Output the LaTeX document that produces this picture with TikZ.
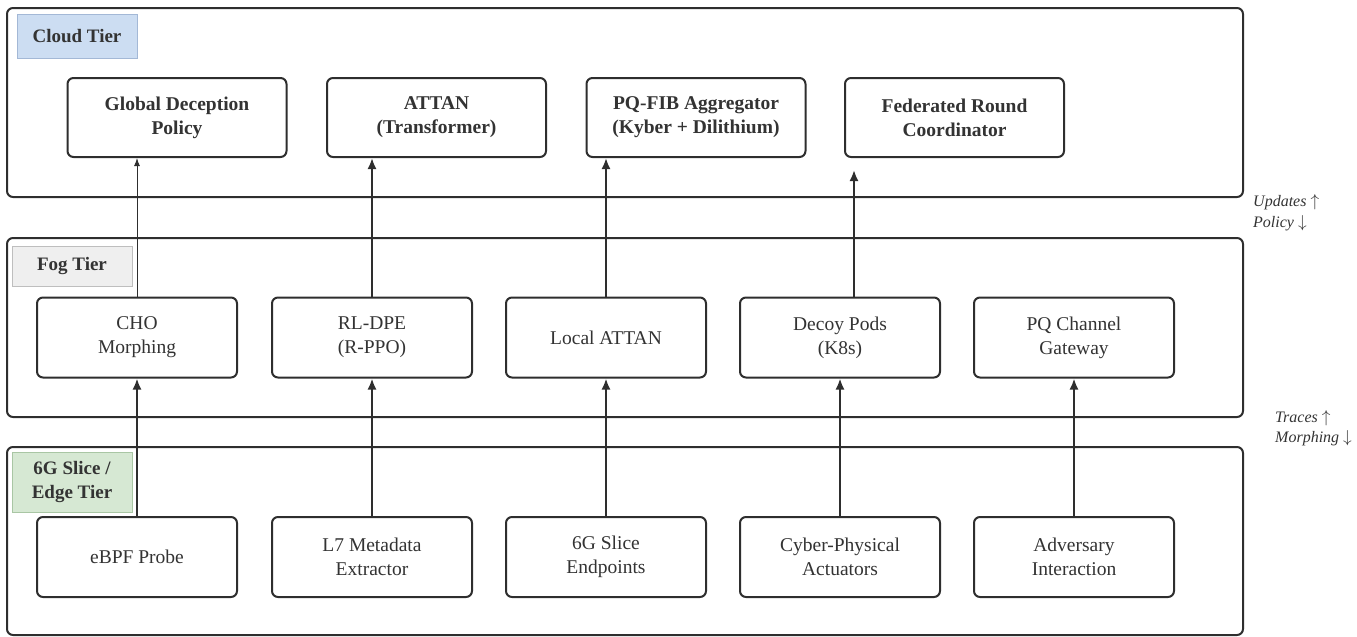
\documentclass[tikz,border=0pt]{standalone}
\usepackage{fontspec}
\setmainfont{Liberation Serif}
\usetikzlibrary{arrows.meta,calc}
\definecolor{linec}{HTML}{2E2E2E}
\definecolor{txtc}{HTML}{333333}
\definecolor{cloudfill}{HTML}{CCDDF2}
\definecolor{cloudbord}{HTML}{A3B8D6}
\definecolor{fogfill}{HTML}{EFEFEF}
\definecolor{fogbord}{HTML}{BEBEBE}
\definecolor{edgefill}{HTML}{D6E8D3}
\definecolor{edgebord}{HTML}{A9C6A4}
\begin{document}
\begin{tikzpicture}[x=1pt,y=-1pt,
  tierbox/.style={draw=linec,line width=2pt,rounded corners=6pt},
  compbox/.style={draw=linec,line width=2pt,rounded corners=6pt,fill=white,
    text=txtc,align=center,inner sep=0pt,
    font=\fontsize{19.5}{24}\selectfont},
  cloudcomp/.style={compbox,minimum width=219pt,minimum height=79pt,
    font=\fontsize{19.5}{24}\selectfont\bfseries},
  fogcomp/.style={compbox,minimum width=200pt,minimum height=80pt},
  tierlbl/.style={draw,line width=1pt,minimum width=120pt,inner sep=0pt,
    text=txtc,align=center,font=\fontsize{19}{24}\selectfont\bfseries},
  sidelbl/.style={anchor=west,inner sep=0pt,text=txtc,
    font=\fontsize{16}{18}\selectfont\itshape},
  uparrow/.style={draw=linec,line width=2pt,-{Latex[length=11pt,width=9pt]}},
  thinarrow/.style={draw=linec,line width=1pt,-{Latex[length=8pt,width=6pt]}}
]
\useasboundingbox (0,0) rectangle (1357,637);

% tiers
\draw[tierbox] (7,8) rectangle (1243,197);
\draw[tierbox] (7,238) rectangle (1243,417);
\draw[tierbox] (7,447) rectangle (1243,635);

% tier labels
\node[tierlbl,fill=cloudfill,draw=cloudbord,minimum height=44pt] (cloudlbl) at (77,36) {Cloud Tier};
\node[tierlbl,fill=fogfill,draw=fogbord,minimum height=40pt] (foglbl) at (72,266) {Fog Tier};
\node[tierlbl,fill=edgefill,draw=edgebord,minimum height=60pt] (edgelbl) at (72,482) {6G Slice /\\Edge Tier};

% cloud components
\node[cloudcomp] (gdp) at (177,117.5) {Global Deception\\Policy};
\node[cloudcomp] (attan) at (436.5,117.5) {ATTAN\\(Transformer)};
\node[cloudcomp] (pqfib) at (696,117.5) {PQ-FIB Aggregator\\(Kyber + Dilithium)};
\node[cloudcomp] (fed) at (954.5,117.5) {Federated Round\\Coordinator};

% fog components
\node[fogcomp] (cho) at (137,337.5) {CHO\\Morphing};
\node[fogcomp] (rldpe) at (372,337.5) {RL-DPE\\(R-PPO)};
\node[fogcomp] (lattan) at (606,337.5) {Local ATTAN};
\node[fogcomp] (decoy) at (840,337.5) {Decoy Pods\\(K8s)};
\node[fogcomp] (pqgw) at (1074,337.5) {PQ Channel\\Gateway};

% edge components
\node[fogcomp] (ebpf) at (137,557) {eBPF Probe};
\node[fogcomp] (l7) at (372,557) {L7 Metadata\\Extractor};
\node[fogcomp] (slice) at (606,557) {6G Slice\\Endpoints};
\node[fogcomp] (cps) at (840,557) {Cyber-Physical\\Actuators};
\node[fogcomp] (adv) at (1074,557) {Adversary\\Interaction};

% edge -> fog
\draw[uparrow] (ebpf.north) -- (cho.south);
\draw[uparrow] (l7.north) -- (rldpe.south);
\draw[uparrow] (slice.north) -- (lattan.south);
\draw[uparrow] (cps.north) -- (decoy.south);
\draw[uparrow] (adv.north) -- (pqgw.south);

% fog -> cloud
\draw[thinarrow] (cho.north) -- (cho.north |- gdp.south);
\draw[uparrow] (rldpe.north) -- (rldpe.north |- attan.south);
\draw[uparrow] (lattan.north) -- (lattan.north |- pqfib.south);
\coordinate (fedin) at ($(fed.south west)+(10,12)$);
\draw[uparrow] (fedin |- decoy.north) -- (fedin);

% side labels
\node[sidelbl] (upd) at (1253,202) {Updates $\uparrow$};
\node[sidelbl] (pol) at (1253,223) {Policy $\downarrow$};
\node[sidelbl] (trc) at (1275,418) {Traces $\uparrow$};
\node[sidelbl] (mor) at (1275,438) {Morphing $\downarrow$};
\end{tikzpicture}
\end{document}
